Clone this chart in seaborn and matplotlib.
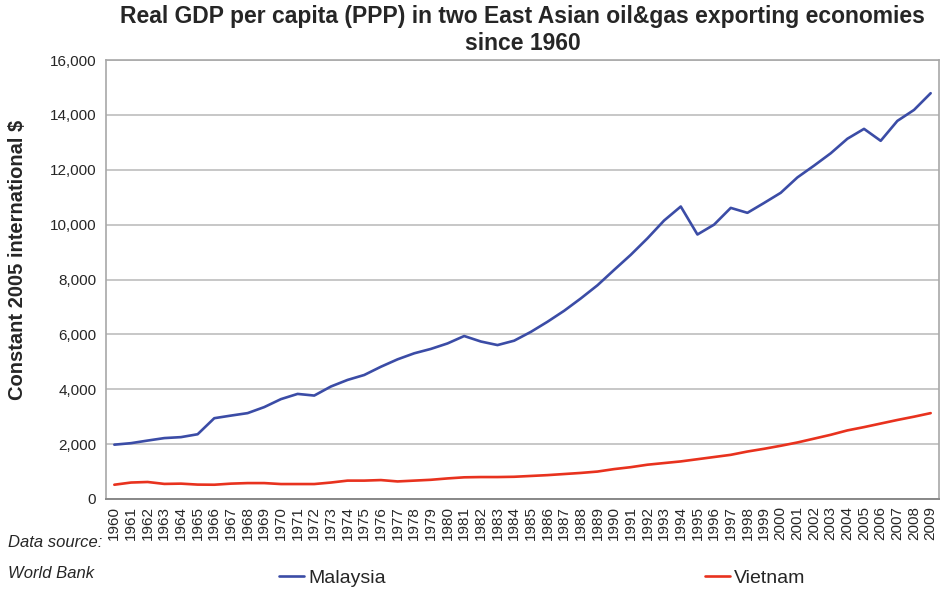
import numpy as np
import pandas as pd
import matplotlib
matplotlib.use("Agg")
import matplotlib.pyplot as plt
import seaborn as sns
from matplotlib.ticker import FuncFormatter, FixedLocator

# Datos (PIB real per capita, PPA, dolares int. de 2005)
anios = list(range(1960, 2010))

malasia = [1980, 2035, 2130, 2220, 2255, 2360, 2945, 3040, 3130, 3350,
           3640, 3830, 3770, 4100, 4340, 4520, 4820, 5090, 5310, 5470,
           5670, 5940, 5740, 5610, 5770, 6090, 6460, 6860, 7310, 7790,
           8350, 8900, 9500, 10150, 10660, 9640, 10000, 10610, 10430, 10790,
           11160, 11720, 12150, 12600, 13130, 13490, 13055, 13780, 14180, 14790]

vietnam = [520, 600, 620, 550, 560, 525, 520, 560, 580, 580,
           545, 545, 545, 600, 670, 670, 690, 640, 670, 700,
           750, 790, 800, 800, 810, 840, 870, 910, 950, 1000,
           1090, 1160, 1250, 1310, 1370, 1450, 1530, 1610, 1730, 1830,
           1940, 2060, 2200, 2340, 2500, 2620, 2750, 2880, 3000, 3130]

paises = ["Malaysia", "Vietnam"]
colores = {"Malaysia": "#3B4CA6", "Vietnam": "#E8321E"}

df = pd.DataFrame({
    "Año": anios * 2,
    "Valor": malasia + vietnam,
    "País": ["Malaysia"] * len(anios) + ["Vietnam"] * len(anios),
})

sns.set_style("white")
plt.rcParams["font.family"] = ["Liberation Sans", "DejaVu Sans"]

fig, ax = plt.subplots(figsize=(9.45, 5.95), dpi=100)
fig.subplots_adjust(left=106 / 945, right=939 / 945, top=1 - 60 / 595, bottom=1 - 499 / 595)

sns.lineplot(data=df, x="Año", y="Valor", hue="País", hue_order=paises,
             palette=colores, linewidth=1.9, ax=ax, legend=False)

# ejes
ax.set_xlim(anios[0] - 0.5, anios[-1] + 0.5)
ax.set_ylim(0, 16000)
ax.set_yticks(range(0, 16001, 2000))
ax.yaxis.set_major_formatter(FuncFormatter(lambda v, p: f"{int(v):,}"))
ax.set_xticks(anios)
ax.set_xticklabels([str(a) for a in anios], rotation=90, fontsize=11)
ax.xaxis.set_minor_locator(FixedLocator([a - 0.5 for a in anios] + [anios[-1] + 0.5]))
ax.tick_params(axis="x", which="major", length=0, pad=5)
ax.tick_params(axis="x", which="minor", length=4, color="#888888", direction="out")
ax.tick_params(axis="y", length=4, color="#888888", labelsize=11, pad=3)
ax.grid(axis="y", color="#BDBDBD", linewidth=1.2)
ax.set_axisbelow(True)
for lado in ["left", "right", "top"]:
    ax.spines[lado].set_color("#A8A8A8")
    ax.spines[lado].set_linewidth(1.2)
ax.spines["bottom"].set_color("#888888")
ax.spines["bottom"].set_linewidth(1.4)

ax.set_xlabel("")
ax.set_ylabel("Constant 2005 international $", fontsize=14.5, fontweight="bold")
ax.yaxis.set_label_coords((27 - 106) / 833, (499 - 260) / 439)
ax.set_title("Real GDP per capita (PPP) in two East Asian oil&gas exporting economies\nsince 1960",
             fontsize=16.5, fontweight="bold", pad=7, linespacing=1.25)

# leyenda abajo
h1, = ax.plot([], [], color=colores["Malaysia"], linewidth=1.9)
h2, = ax.plot([], [], color=colores["Vietnam"], linewidth=1.9)
fig.legend([h1, h2], paises, loc="center", bbox_to_anchor=(542 / 945, 1 - 578 / 595),
           ncol=2, frameon=False, fontsize=14, columnspacing=16.4, handlelength=1.3,
           handletextpad=0.2)

fig.text(8 / 945, 1 - 558 / 595, "Data source:\nWorld Bank", fontsize=12, style="italic",
         va="center", ha="left", linespacing=2.3)

plt.savefig("out.png", dpi=100)
